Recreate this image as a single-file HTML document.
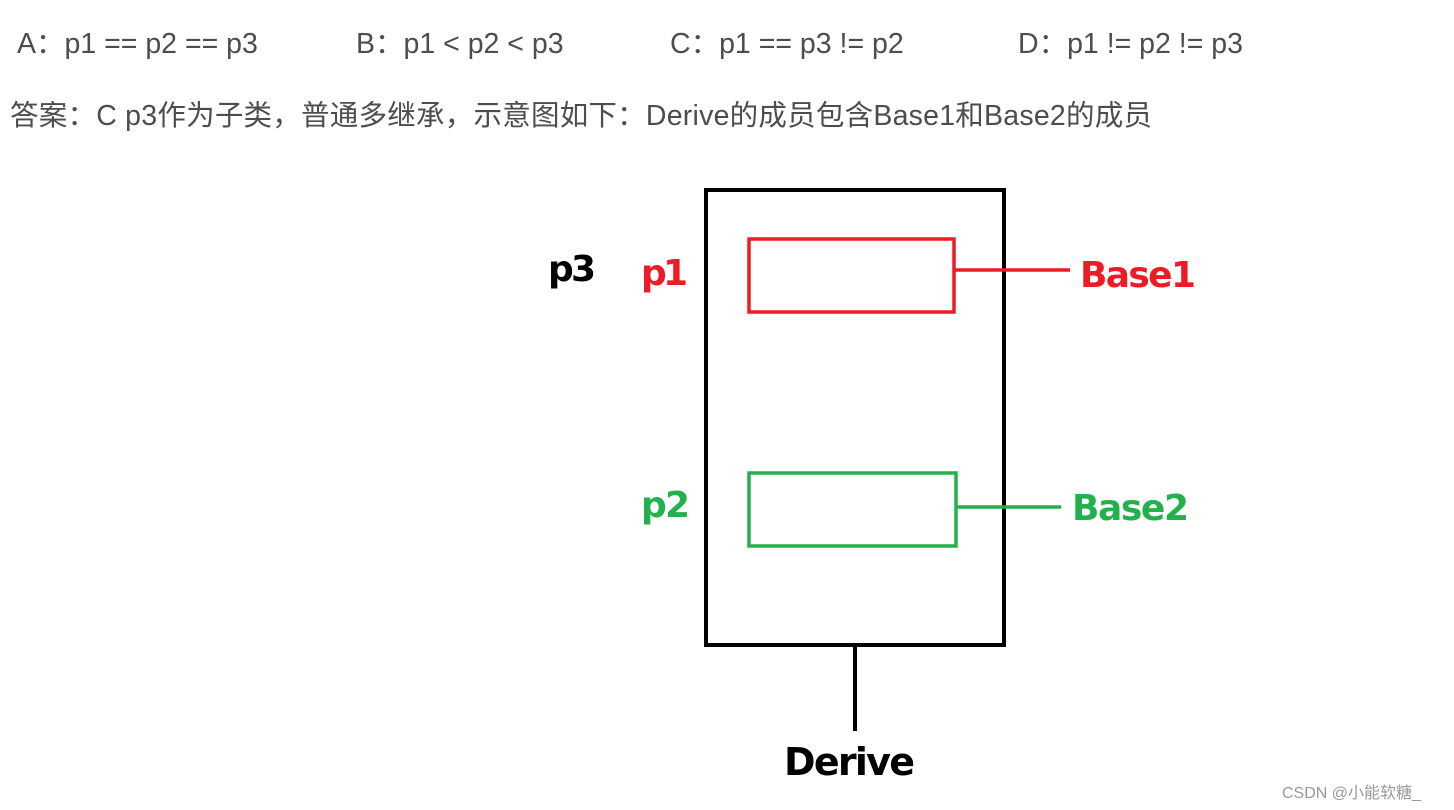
<!DOCTYPE html>
<html><head><meta charset="utf-8"><style>
html,body{margin:0;padding:0;background:#fff;width:1454px;height:810px;overflow:hidden}
svg{position:absolute;left:0;top:0}
.t{font-family:"Liberation Sans","Noto Sans CJK SC",sans-serif;font-size:28.5px;fill:#4d4d4d}
.b{font-family:"DejaVu Sans","Liberation Sans",sans-serif;font-weight:bold}
</style></head><body>
<svg width="1454" height="810" xmlns="http://www.w3.org/2000/svg">
<text class="t" x="17" y="53">A：p1 == p2 == p3</text>
<text class="t" x="356" y="53">B：p1 &lt; p2 &lt; p3</text>
<text class="t" x="670" y="53">C：p1 == p3 != p2</text>
<text class="t" x="1018" y="53">D：p1 != p2 != p3</text>
<text class="t" x="10" y="125" textLength="1142">答案：C p3作为子类，普通多继承，示意图如下：Derive的成员包含Base1和Base2的成员</text>
<rect x="706" y="190" width="298" height="455" fill="none" stroke="#000" stroke-width="4"/>
<rect x="749" y="239" width="205" height="73" fill="none" stroke="#ed1c24" stroke-width="3.5"/>
<line x1="955" y1="270" x2="1070" y2="270" stroke="#ed1c24" stroke-width="3.5"/>
<rect x="749" y="473" width="207" height="73" fill="none" stroke="#22b14c" stroke-width="3.5"/>
<line x1="957" y1="507" x2="1061" y2="507" stroke="#22b14c" stroke-width="3.5"/>
<line x1="855" y1="645" x2="855" y2="731" stroke="#000" stroke-width="4"/>
<text class="b" x="548" y="281" font-size="36" fill="#000" textLength="48">p3</text>
<text class="b" x="641" y="285" font-size="36" fill="#ed1c24" textLength="47">p1</text>
<text class="b" x="1080" y="287" font-size="36" fill="#ed1c24" textLength="116">Base1</text>
<text class="b" x="641" y="517" font-size="36" fill="#22b14c" textLength="49">p2</text>
<text class="b" x="1072" y="520" font-size="36" fill="#22b14c" textLength="117">Base2</text>
<text class="b" x="784" y="775" font-size="38" fill="#000" textLength="131">Derive</text>
<text x="1282" y="798" font-family="Liberation Sans,Noto Sans CJK SC,sans-serif" font-size="16" fill="#999">CSDN @小能软糖_</text>
</svg>
</body></html>
